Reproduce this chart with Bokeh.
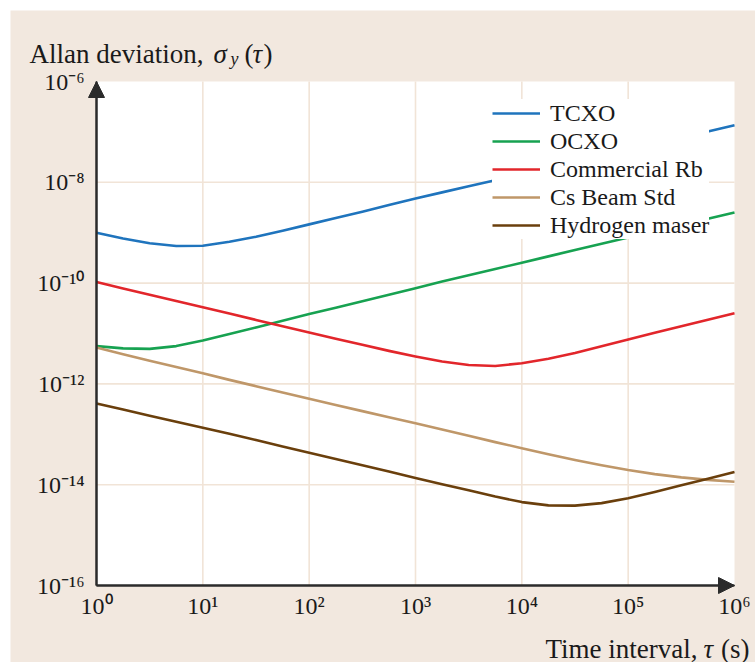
import math
from bokeh.plotting import figure
from bokeh.models import FixedTicker, Label, Arrow, NormalHead
from bokeh.embed import file_html
from bokeh.resources import INLINE

# ---- data (log10 of tau and of Allan deviation) ----
log_tau = [0.0, 0.25, 0.5, 0.75, 1.0, 1.25, 1.5, 1.75, 2.0, 2.25, 2.5, 2.75, 3.0,
           3.25, 3.5, 3.75, 4.0, 4.25, 4.5, 4.75, 5.0, 5.25, 5.5, 5.75, 6.0]

tcxo_log = [-9.00, -9.115, -9.21, -9.265, -9.26, -9.18, -9.08, -8.96, -8.835, -8.71, -8.585, -8.45, -8.32,
            -8.20, -8.08, -7.96, -7.84, -7.72, -7.60, -7.48, -7.355, -7.23, -7.11, -6.99, -6.87]
ocxo_log = [-11.25, -11.295, -11.305, -11.25, -11.14, -11.01, -10.88, -10.745, -10.615, -10.49, -10.36, -10.23, -10.10,
            -9.97, -9.845, -9.72, -9.595, -9.47, -9.345, -9.22, -9.095, -8.97, -8.85, -8.725, -8.60]
rb_log = [-9.98, -10.105, -10.23, -10.355, -10.48, -10.605, -10.73, -10.855, -10.98, -11.105, -11.225, -11.345, -11.455,
          -11.555, -11.625, -11.645, -11.59, -11.50, -11.385, -11.255, -11.12, -10.985, -10.855, -10.725, -10.60]
cs_log = [-11.28, -11.41, -11.54, -11.665, -11.79, -11.92, -12.045, -12.17, -12.295, -12.42, -12.54, -12.66, -12.78,
          -12.905, -13.03, -13.155, -13.275, -13.395, -13.51, -13.615, -13.71, -13.79, -13.855, -13.905, -13.94]
hm_log = [-12.39, -12.51, -12.63, -12.75, -12.87, -12.99, -13.115, -13.24, -13.365, -13.49, -13.615, -13.74, -13.865,
          -13.99, -14.11, -14.235, -14.345, -14.41, -14.415, -14.365, -14.27, -14.145, -14.01, -13.88, -13.75]

series_names = ["TCXO", "OCXO", "Commercial Rb", "Cs Beam Std", "Hydrogen maser"]
series_logs = [tcxo_log, ocxo_log, rb_log, cs_log, hm_log]
series_colors = ["#1F74BD", "#17A251", "#E2262B", "#BF9769", "#6A3F0C"]

x_ticks = [1e0, 1e1, 1e2, 1e3, 1e4, 1e5, 1e6]
x_tick_labels = ["10⁰", "10¹", "10²", "10³", "10⁴", "10⁵", "10⁶"]
y_ticks = [1e-16, 1e-14, 1e-12, 1e-10, 1e-8, 1e-6]
y_tick_labels = ["10⁻¹⁶", "10⁻¹⁴", "10⁻¹²", "10⁻¹⁰", "10⁻⁸", "10⁻⁶"]

# ---- layout / style ----
SERIF = "Liberation Serif"
BG = "#F2E8DF"
GRID = "#F1E4D7"
AX = "#2b2b2b"
TXT = "#1a1a1a"

W, H = 745, 652                # canvas size (placed 10px from the page's top-left)
AX_LEFT, AX_RIGHT = 86, 724    # canvas px where tau = first / last tick
AX_TOP, AX_BOTTOM = 71, 575    # canvas px where sigma = last / first tick

lx0, lx1 = math.log10(x_ticks[0]), math.log10(x_ticks[-1])
ly0, ly1 = math.log10(y_ticks[0]), math.log10(y_ticks[-1])
dx = (AX_RIGHT - AX_LEFT) / (lx1 - lx0)
dy = (AX_BOTTOM - AX_TOP) / (ly1 - ly0)
x_range = (10 ** (lx0 - AX_LEFT / dx), 10 ** (lx1 + (W - AX_RIGHT) / dx))
y_range = (10 ** (ly0 - (H - AX_BOTTOM) / dy), 10 ** (ly1 + AX_TOP / dy))

tau = [10 ** v for v in log_tau]

p = figure(width=W, height=H, x_axis_type="log", y_axis_type="log",
           x_range=x_range, y_range=y_range,
           output_backend="svg", toolbar_location=None, min_border=0,
           margin=(10, 0, 0, 10))
p.title.visible = False
p.border_fill_color = BG
p.background_fill_color = BG
p.outline_line_color = None
p.grid.visible = False

# white plotting area and grid lines
p.quad(left=x_ticks[0], right=x_ticks[-1], bottom=y_ticks[0], top=y_ticks[-1],
       fill_color="white", line_color=None)
inner_x = x_ticks[1:-1]
inner_y = y_ticks[1:-1]
p.segment(x0=inner_x, x1=inner_x, y0=[y_ticks[0]] * len(inner_x), y1=[y_ticks[-1]] * len(inner_x),
          line_color=GRID, line_width=1.6)
p.segment(x0=[x_ticks[0]] * len(inner_y), x1=[x_ticks[-1]] * len(inner_y), y0=inner_y, y1=inner_y,
          line_color=GRID, line_width=1.6)

for name, lg, col in zip(series_names, series_logs, series_colors):
    p.line(tau, [10 ** v for v in lg], line_color=col, line_width=2.6,
           line_join="round", legend_label=name)

# axes drawn at tau = 1 and sigma = 1e-16
p.xaxis.fixed_location = y_ticks[0]
p.yaxis.fixed_location = x_ticks[0]
p.xaxis.bounds = (x_ticks[0], x_ticks[-1])
p.yaxis.bounds = (y_ticks[0], y_ticks[-1])
p.xaxis.ticker = FixedTicker(ticks=x_ticks)
p.yaxis.ticker = FixedTicker(ticks=y_ticks)
p.xaxis.major_label_overrides = dict(zip(x_ticks, x_tick_labels))
p.yaxis.major_label_overrides = dict(zip(y_ticks, y_tick_labels))
for ax in (p.xaxis, p.yaxis):
    ax.axis_line_color = AX
    ax.axis_line_width = 2
    ax.major_tick_line_color = None
    ax.minor_tick_line_color = None
    ax.major_tick_out = 0
    ax.major_tick_in = 0
    ax.minor_tick_out = 0
    ax.minor_tick_in = 0
    ax.major_label_text_font = SERIF
    ax.major_label_text_font_size = "24px"
    ax.major_label_text_color = TXT
p.xaxis.major_label_standoff = 7
p.yaxis.major_label_standoff = 12

# arrow heads on axes
p.add_layout(Arrow(end=NormalHead(size=16, fill_color=AX, line_color=AX),
                   x_start=x_ticks[0], y_start=y_ticks[0], x_end=x_ticks[0], y_end=y_ticks[-1],
                   line_color=AX, line_width=2))
p.add_layout(Arrow(end=NormalHead(size=16, fill_color=AX, line_color=AX),
                   x_start=x_ticks[0], y_start=y_ticks[0], x_end=x_ticks[-1], y_end=y_ticks[0],
                   line_color=AX, line_width=2))

# legend
lg = p.legend[0]
lg.location = (482, 423)
lg.border_line_color = None
lg.background_fill_color = "white"
lg.background_fill_alpha = 1.0
lg.label_text_font = SERIF
lg.label_text_font_size = "24px"
lg.label_text_color = TXT
lg.glyph_width = 48
lg.glyph_height = 28
lg.label_height = 28
lg.label_standoff = 10
lg.padding = 6
lg.spacing = 0
lg.margin = 0

# axis titles (screen units: from the canvas' bottom-left)
def lab(text, x, y, size="27px", style="normal", align="left"):
    p.add_layout(Label(x=x, y=y, x_units="screen", y_units="screen", text=text,
                       text_font=SERIF, text_font_size=size, text_font_style=style,
                       text_color=TXT, text_align=align, text_baseline="alphabetic"))

lab("Allan deviation,", 19, 609)
lab("σ", 203, 609, style="italic")
lab("y", 220, 604, size="18px", style="italic")
lab("(", 234, 609)
lab("τ", 242, 609, style="italic")
lab(")", 253, 609)

lab("Time interval,", 687, 14, align="right")
lab("τ", 693, 14, style="italic")
lab("(s)", 739, 14, align="right")

open("out.html", "w").write(file_html(p, INLINE))
